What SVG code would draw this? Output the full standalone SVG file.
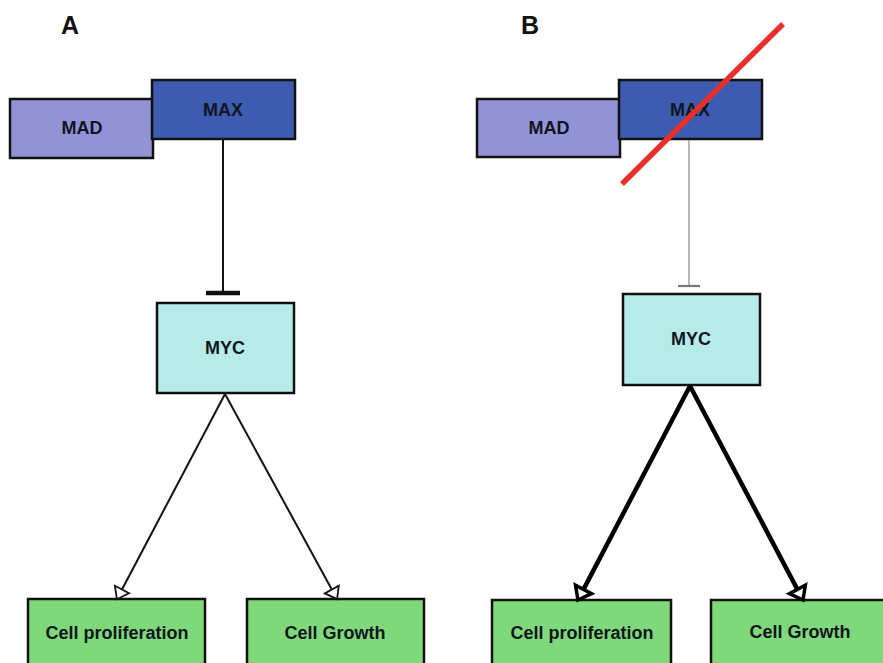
<svg xmlns="http://www.w3.org/2000/svg" width="883" height="663" viewBox="0 0 883 663">
  <style>
    .box { stroke: #111; stroke-width: 2.5; }
    .mad { fill: #9292d6; }
    .max { fill: #3d5cb1; }
    .myc { fill: #b7ebea; }
    .out { fill: #7fd97b; }
    .lbl { font-family: "Liberation Sans", Arial, sans-serif; font-weight: bold; font-size: 18px; fill: #10151e; text-anchor: middle; dominant-baseline: central; }
    .panel { font-family: "Liberation Sans", Arial, sans-serif; font-weight: bold; font-size: 25px; fill: #111; text-anchor: middle; }
    .thin { stroke: #111; stroke-width: 2; fill: none; }
    .thick { stroke: #000; stroke-width: 4.5; fill: none; }
  </style>
  <defs>
    <marker id="openThin" markerUnits="userSpaceOnUse" markerWidth="16" markerHeight="22" viewBox="-2 -10 16 20" refX="0" refY="0" orient="auto">
      <path d="M0,-8 L11,0 L0,8 Z" fill="#fff" stroke="#111" stroke-width="1.8"/>
    </marker>
    <marker id="openThick" markerUnits="userSpaceOnUse" markerWidth="20" markerHeight="26" viewBox="-3 -12 20 24" refX="0" refY="0" orient="auto">
      <path d="M0,-9 L12,0 L0,9 Z" fill="#fff" stroke="#000" stroke-width="3.5"/>
    </marker>
  </defs>

  <rect width="883" height="663" fill="#fff"/>

  <!-- panel letters -->
  <text class="panel" x="70" y="34">A</text>
  <text class="panel" x="530" y="34">B</text>

  <!-- panel A nodes -->
  <g id="a-mad"><rect class="box mad" x="10" y="99" width="143" height="59"/><text class="lbl" x="82" y="128">MAD</text></g>
  <g id="a-max"><rect class="box max" x="152" y="80" width="143" height="59"/><text class="lbl" x="223" y="110">MAX</text></g>
  <g id="a-myc"><rect class="box myc" x="157" y="303" width="137" height="90"/><text class="lbl" x="225" y="348">MYC</text></g>
  <g id="a-prolif"><rect class="box out" x="28" y="599" width="177" height="80"/><text class="lbl" x="117" y="633">Cell proliferation</text></g>
  <g id="a-growth"><rect class="box out" x="247" y="599" width="177" height="80"/><text class="lbl" x="335" y="633">Cell Growth</text></g>

  <!-- panel B nodes -->
  <g id="b-mad"><rect class="box mad" x="477" y="99" width="143" height="58"/><text class="lbl" x="549" y="128">MAD</text></g>
  <g id="b-max"><rect class="box max" x="619" y="80" width="143" height="59"/><text class="lbl" x="690" y="110">MAX</text></g>
  <g id="b-myc"><rect class="box myc" x="623" y="294" width="137" height="91"/><text class="lbl" x="691" y="339">MYC</text></g>
  <g id="b-prolif"><rect class="box out" x="492" y="600" width="179" height="80"/><text class="lbl" x="582" y="633">Cell proliferation</text></g>
  <g id="b-growth"><rect class="box out" x="711" y="600" width="185" height="80"/><text class="lbl" x="800" y="632">Cell Growth</text></g>

  <!-- connectors -->
  <g id="connectors">
    <!-- A: MAX inhibits MYC -->
    <line class="thin" x1="223" y1="140" x2="223" y2="293"/>
    <line stroke="#111" stroke-width="4.5" x1="206" y1="293" x2="240" y2="293"/>
    <!-- A: MYC promotes outcomes -->
    <line class="thin" x1="225" y1="394" x2="122" y2="589.5" marker-end="url(#openThin)"/>
    <line class="thin" x1="225" y1="394" x2="331.8" y2="589.5" marker-end="url(#openThin)"/>

    <!-- B: weakened MAX inhibition -->
    <line stroke="#888" stroke-width="1.2" x1="689" y1="140" x2="689" y2="286"/>
    <line stroke="#777" stroke-width="2.2" x1="678" y1="286" x2="700" y2="286"/>
    <!-- B: enhanced MYC output -->
    <line class="thick" x1="690" y1="386" x2="583.5" y2="589.4" marker-end="url(#openThick)"/>
    <line class="thick" x1="690" y1="386" x2="797.4" y2="589.4" marker-end="url(#openThick)"/>
  </g>

  <!-- MAX knocked out -->
  <line id="strike" x1="622" y1="184" x2="783" y2="24" stroke="#e8302a" stroke-width="5.5"/>
</svg>
